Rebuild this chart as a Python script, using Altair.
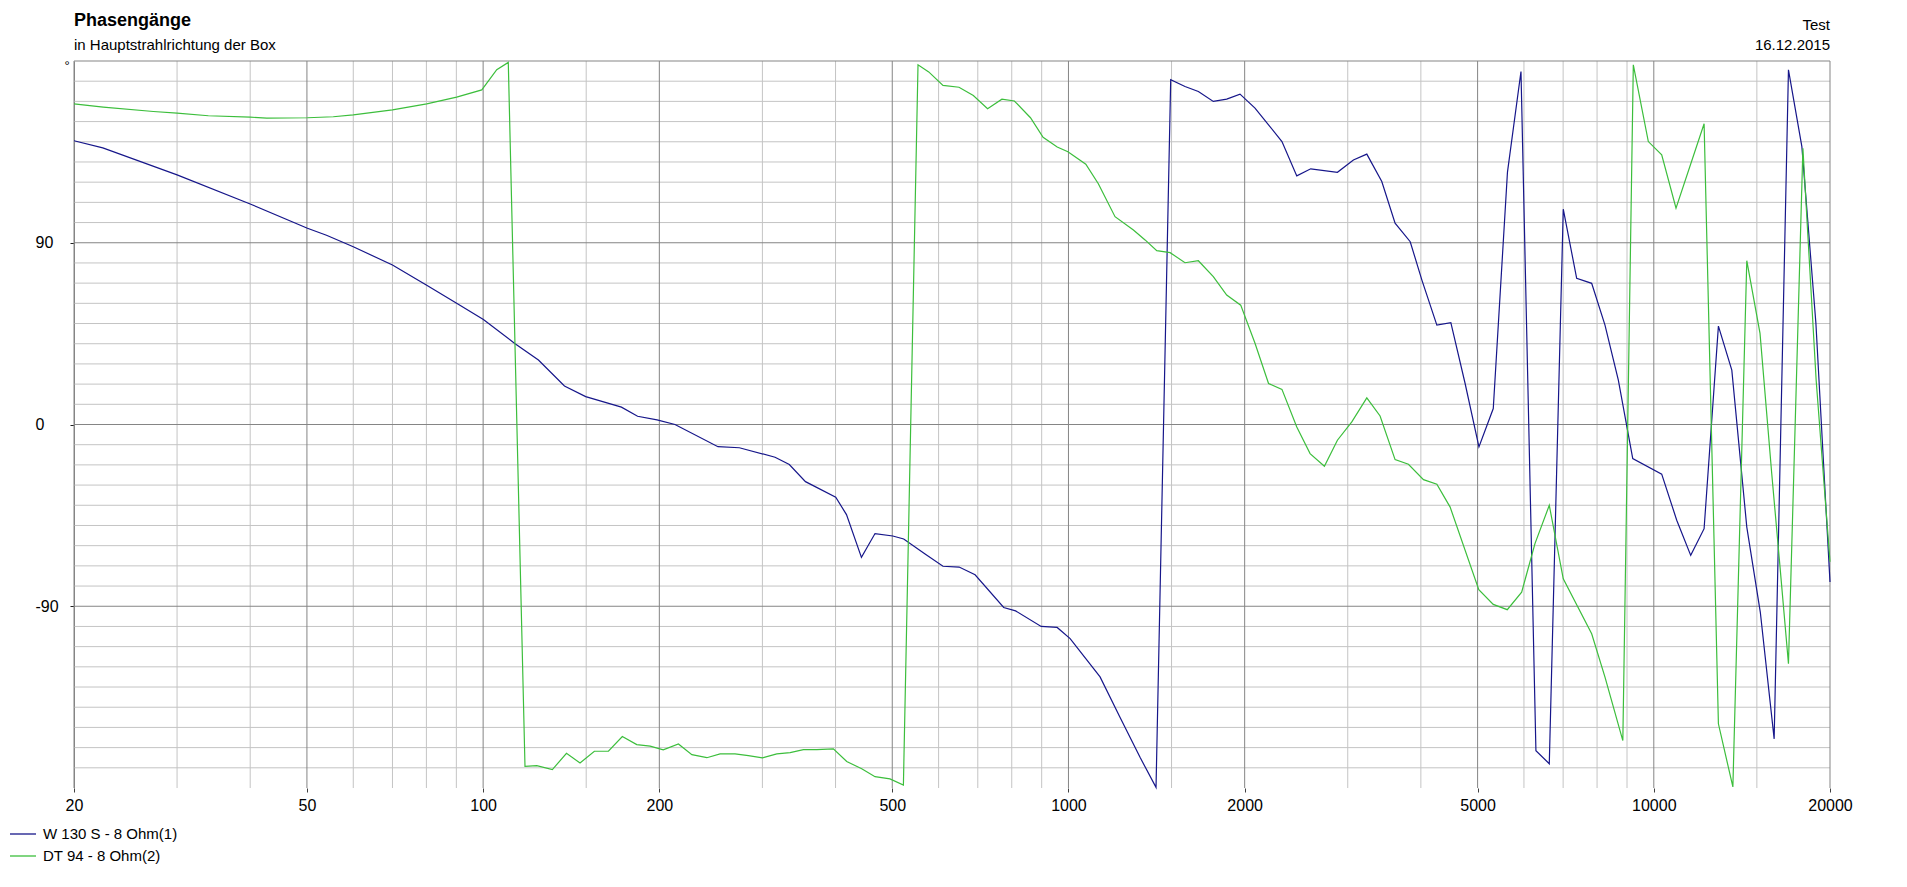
import altair as alt
import pandas as pd

FONT = "Liberation Sans"

title_text = "Phasengänge"
subtitle_text = "in Hauptstrahlrichtung der Box"
right_top = "Test"
right_date = "16.12.2015"
unit_label = "°"

series_names = ["W 130 S - 8 Ohm(1)", "DT 94 - 8 Ohm(2)"]
series_colors = ["#16168a", "#3cbe3c"]

# W 130 S - 8 Ohm(1): frequency (Hz) and phase (deg)
freq_w = [20, 22.4, 30, 40, 50.1, 54, 60, 70, 80.1, 90.1, 100.1, 113.4, 124.3, 137.7, 149.7,
          172.3, 183.6, 198.2, 212.7, 251.9, 274, 315.3, 333.5, 355.4, 400.3, 417.6, 442.9,
          467.2, 501.1, 523, 568.9, 610.4, 650.4, 692.6, 775.1, 812.3, 898.2, 956.5, 1006.6,
          1132.4, 1224.6, 1325.2, 1411.2, 1495.1, 1581.6, 1666.9, 1767.9, 1863.5, 1963.8,
          2083, 2196.9, 2315.9, 2455.1, 2593.7, 2880.6, 3067.6, 3233.7, 3429.9, 3614.1,
          3835.8, 4016.3, 4259.7, 4500.6, 4760.4, 5026.6, 5317.9, 5623.6, 5930.5, 6289.7,
          6628.9, 7003.8, 7383, 7832, 8253, 8698, 9205, 10316, 10944, 11563, 12188, 12894,
          13592, 14417, 15205, 16055, 16985, 17905, 18922, 20000]
phase_w = [140.5, 137, 123.6, 109.2, 97.2, 93.7, 88, 79, 69, 60, 52, 40, 31.9, 19.1, 13.8,
           8.6, 4.1, 2.3, 0, -11, -11.5, -16.2, -19.8, -28.3, -36, -44.6, -65.8,
           -54, -55.2, -56.7, -64.1, -70.2, -70.6, -74.4, -90.6, -92.3, -100, -100.5, -106,
           -125, -145, -164.8, -179.7, 170.7, 167.4, 164.9, 160, 161.1, 163.6,
           156.7, 148.4, 140.1, 123.1, 126.6, 124.9, 131, 133.9, 120.3, 99.7,
           90.5, 71.5, 49.2, 50.4, 20.3, -11.1, 7.9, 125, 174.8, -161.5,
           -168, 106.6, 72.4, 69.9, 49.2, 22, -16.9, -24.6, -47.4, -64.8, -51.6, 48.7,
           26.9, -50.8, -93, -155.7, 175.6, 137.6, 50, -78]

# DT 94 - 8 Ohm(2): frequency (Hz) and phase (deg)
freq_dt = [20, 22.44, 27.33, 30, 33.93, 40, 42.69, 50.1, 55.46, 60, 70, 80.1, 90.1, 99.47,
           105.5, 110.4, 117.9, 123.5, 131.3, 138.8, 146.4, 154.9, 163.7, 172.9, 183, 192.9,
           203.1, 215.6, 227.3, 241.1, 254, 269.4, 283.9, 300, 317.5, 334.6, 352.5, 371.6,
           396.6, 418, 443.4, 467.2, 495.5, 522.4, 553.3, 577.1, 610.4, 650.1, 687.8, 727.5,
           769.6, 808.4, 861.2, 905, 956.7, 997.8, 1070.6, 1124.7, 1201, 1291.1, 1351.7,
           1415.3, 1491.6, 1581.6, 1666.9, 1767.9, 1863.5, 1969.2, 2083, 2196.9, 2315.9,
           2455.1, 2587, 2736.9, 2880.6, 3048.4, 3233.7, 3407, 3614.1, 3809, 4041.6, 4259.7,
           4488.2, 5023.8, 5317.9, 5619, 5946.6, 6266, 6628.9, 7003.8, 7832, 8253, 8853,
           9226, 9787, 10316, 10913, 12188, 12894, 13649, 14417, 15187, 15903, 16431, 16985,
           17978, 18939, 20000]
phase_dt = [158.8, 157.2, 155, 154.2, 152.9, 152.2, 151.7, 151.9, 152.4, 153.3, 155.8, 158.8,
            162.1, 165.7, 175.7, 179.3, -169.3, -168.9, -170.9, -162.8, -167.6, -161.8, -161.8,
            -154.5, -158.5, -159.3, -161.1, -158.2, -163.5, -165, -163.1, -163.1, -164, -165.1,
            -163.1, -162.5, -161, -161, -160.6, -166.9, -170.5, -174.4, -175.5, -178.5, 178.1,
            174.6, 167.9, 167, 162.9, 156.4, 161.1, 160.2, 151.9, 142.2, 137.4, 135.1, 128.9,
            119.2, 102.9, 96.3, 91.4, 86.1, 85.1, 80.1, 81.1, 73.2, 64.1, 59.1, 40.2, 20.3,
            17.4, -1.2, -14.4, -20.7, -7.8, 1.3, 13.2, 4.2, -17.4, -19.7, -27.3, -29.6, -40.9,
            -81.8, -89.1, -91.7, -83, -59, -40, -76.4, -103.6, -125.1, -156.5, 178.1, 140.1,
            133.5, 107.1, 148.9, -148.2, -179.5, 81.1, 45.1, -24.3, -70.6, -118.5, 136.8, 22,
            -68]

# grid / tick values
x_major = [20, 50, 100, 200, 500, 1000, 2000, 5000, 10000, 20000]
x_minor = [30, 40, 60, 70, 80, 90, 150, 300, 400, 600, 700, 800, 900, 1500, 3000, 4000,
           6000, 7000, 8000, 9000, 15000]
y_labels = [90, 0, -90]
y_major = [180, 90, 0, -90]
y_minor = [170, 160, 150, 140, 130, 120, 110, 100, 80, 70, 60, 50, 40, 30, 20, 10,
           -10, -20, -30, -40, -50, -60, -70, -80, -100, -110, -120, -130, -140, -150,
           -160, -170]

W, H = 1756, 727
LIGHT = "#c4c4c4"
DARK = "#858585"

xs = alt.Scale(type="log", domain=[20, 20000], nice=False)
ys = alt.Scale(domain=[-180, 180], nice=False)

x_axis = alt.Axis(values=x_major, labelExpr="'' + datum.value", grid=False, domain=False,
                  tickColor="#404040", tickSize=4, labelFontSize=16, labelFont=FONT,
                  labelColor="#000000", labelPadding=5, labelFlush=False,
                  labelOverlap=False, title=None)
y_axis = alt.Axis(values=y_labels, labelExpr="'' + datum.value", grid=False, domain=True,
                  domainColor=DARK, tickColor="#202020", tickSize=4, labelAlign="left",
                  labelPadding=35, labelFontSize=16, labelFont=FONT,
                  labelColor="#000000", title=None)

df_lines = pd.concat([
    pd.DataFrame({"f": freq_w, "p": phase_w, "series": series_names[0]}),
    pd.DataFrame({"f": freq_dt, "p": phase_dt, "series": series_names[1]}),
])

v_minor = alt.Chart(pd.DataFrame({"f": x_minor})).mark_rule(color=LIGHT, strokeWidth=1).encode(
    x=alt.X("f:Q", scale=xs, axis=x_axis, title=None))
h_minor = alt.Chart(pd.DataFrame({"p": y_minor})).mark_rule(color=LIGHT, strokeWidth=1).encode(
    y=alt.Y("p:Q", scale=ys, axis=y_axis, title=None))
v_major = alt.Chart(pd.DataFrame({"f": x_major})).mark_rule(color=DARK, strokeWidth=1).encode(
    x=alt.X("f:Q", scale=xs, axis=x_axis, title=None))
h_major = alt.Chart(pd.DataFrame({"p": y_major})).mark_rule(color=DARK, strokeWidth=1).encode(
    y=alt.Y("p:Q", scale=ys, axis=y_axis, title=None))

lines = alt.Chart(df_lines).mark_line(strokeWidth=1.2).encode(
    x=alt.X("f:Q", scale=xs, title=None, axis=x_axis),
    y=alt.Y("p:Q", scale=ys, title=None, axis=y_axis),
    color=alt.Color("series:N", scale=alt.Scale(domain=series_names, range=series_colors),
                    legend=alt.Legend(title=None, orient="none", legendX=-65, legendY=759,
                                      symbolType="stroke", symbolSize=676,
                                      symbolStrokeWidth=1.3, labelFontSize=15, labelFont=FONT,
                                      labelColor="#000000", labelOffset=6, rowPadding=0,
                                      padding=0)),
    order=alt.Order("f:Q"),
)

unit = alt.Chart(pd.DataFrame({"p": [180], "t": [unit_label]})).mark_text(
    align="center", baseline="middle", fontSize=13, font=FONT, dx=-7, dy=5, color="#000000"
).encode(x=alt.value(0), y=alt.Y("p:Q", scale=ys, axis=y_axis, title=None), text="t:N")

title = alt.Chart(pd.DataFrame({"t": [title_text]})).mark_text(
    align="left", baseline="alphabetic", fontSize=18, fontWeight="bold", font=FONT,
    color="#000000").encode(x=alt.value(0), y=alt.value(-35), text="t:N")
subtitle = alt.Chart(pd.DataFrame({"t": [subtitle_text]})).mark_text(
    align="left", baseline="alphabetic", fontSize=15, font=FONT,
    color="#000000").encode(x=alt.value(0), y=alt.value(-11), text="t:N")
rt1 = alt.Chart(pd.DataFrame({"t": [right_top]})).mark_text(
    align="right", baseline="alphabetic", fontSize=15, font=FONT,
    color="#000000").encode(x=alt.value(W), y=alt.value(-31), text="t:N")
rt2 = alt.Chart(pd.DataFrame({"t": [right_date]})).mark_text(
    align="right", baseline="alphabetic", fontSize=15, font=FONT,
    color="#000000").encode(x=alt.value(W), y=alt.value(-11), text="t:N")

chart = alt.layer(v_minor, h_minor, v_major, h_major, lines, unit, title, subtitle, rt1, rt2).properties(
    width=W, height=H,
    autosize=alt.AutoSizeParams(type="none"),
    padding={"left": 66, "top": 53, "right": 40, "bottom": 80},
).configure_view(strokeWidth=0)

chart.save("out.html", embed_options={"renderer": "svg", "actions": False})
